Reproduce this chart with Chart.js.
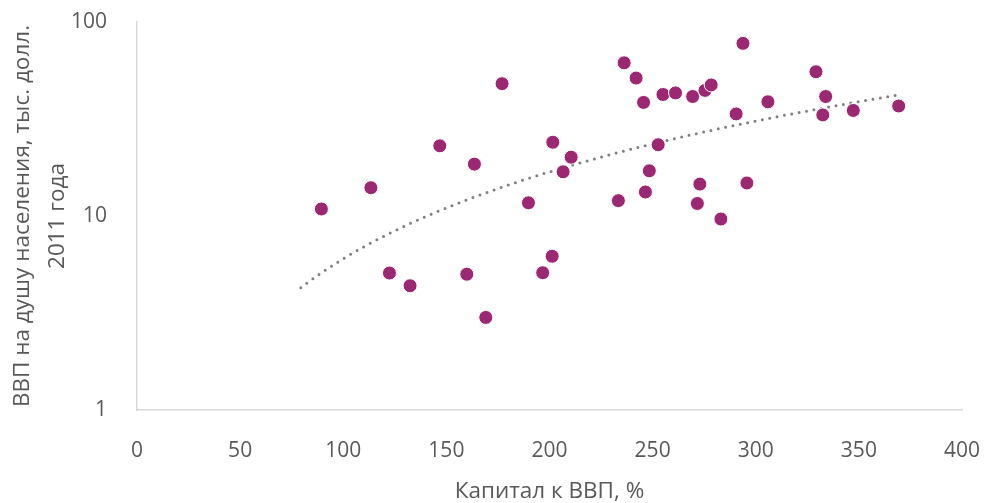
<!DOCTYPE html>
<html>
<head>
<meta charset="utf-8">
<script src="https://cdn.jsdelivr.net/npm/chart.js@4"></script>
<style>
  html, body { margin: 0; padding: 0; background: #fff; }
  #wrap { width: 985px; height: 503px; }
</style>
</head>
<body>
<div id="wrap"><canvas id="chart" width="985" height="503"></canvas></div>
<script>
// Капитал к ВВП, %
const capitalToGdp = [89.4, 113.4, 122.4, 132.4, 146.8, 159.9, 163.6, 169.1, 177.0, 189.8,
    196.7, 201.3, 201.6, 206.6, 210.5, 233.4, 236.2, 242.0, 245.6, 246.5,
    248.4, 252.7, 255.0, 261.1, 269.4, 271.7, 272.9, 275.4, 278.4, 283.1,
    290.5, 293.8, 295.7, 305.9, 329.2, 332.5, 333.9, 347.3, 369.3];
// ВВП на душу населения, тыс. долл. 2011 года
const gdpPerCapita = [10.87, 13.99, 5.08, 4.37, 23.0, 5.01, 18.5, 3.00, 48.1, 11.7,
    5.10, 6.20, 24.0, 16.9, 20.1, 12.0, 61.6, 51.4, 38.5, 13.3,
    17.1, 23.3, 42.3, 43.1, 41.3, 11.6, 14.6, 44.4, 47.4, 9.65,
    33.6, 77.6, 14.8, 38.8, 55.4, 33.2, 41.3, 35.0, 36.9];
const xTicks = [0, 50, 100, 150, 200, 250, 300, 350, 400];
const yTicks = [1, 10, 100];

// Power trendline (Excel style): ln y = ln a + b ln x, with 10 units backward forecast
function powerTrend(xs, ys, backward, steps) {
    const n = xs.length;
    let sx = 0, sy = 0, sxx = 0, sxy = 0;
    for (let i = 0; i < n; i++) {
        const lx = Math.log(xs[i]), ly = Math.log(ys[i]);
        sx += lx; sy += ly; sxx += lx * lx; sxy += lx * ly;
    }
    const b = (n * sxy - sx * sy) / (n * sxx - sx * sx);
    const a = Math.exp((sy - b * sx) / n);
    const x0 = Math.min(...xs) - backward, x1 = Math.max(...xs);
    const pts = [];
    for (let i = 0; i <= steps; i++) {
        const x = x0 + (x1 - x0) * i / steps;
        pts.push({ x: x, y: a * Math.pow(x, b) });
    }
    return pts;
}

const points = capitalToGdp.map((x, i) => ({ x: x, y: gdpPerCapita[i] }));
const trend = powerTrend(capitalToGdp, gdpPerCapita, 10, 120);

const textColor = '#595959';
const family = "'Open Sans', 'Noto Sans', sans-serif";
const tickFont = { family: family, size: 21 };

new Chart(document.getElementById('chart').getContext('2d'), {
    type: 'scatter',
    data: {
        datasets: [{
            label: 'Тренд',
            data: trend,
            showLine: true,
            borderColor: '#7f7f7f',
            borderWidth: 3,
            borderDash: [0, 7.5],
            borderCapStyle: 'round',
            pointRadius: 0,
            fill: false,
            order: 2
        }, {
            label: 'Страны',
            data: points,
            backgroundColor: '#9c2772',
            borderColor: '#ffffff',
            borderWidth: 1,
            pointRadius: 7,
            order: 1
        }]
    },
    options: {
        responsive: false,
        animation: false,
        layout: { padding: { top: 0, right: 0, left: 5, bottom: 0 } },
        plugins: {
            legend: { display: false },
            tooltip: { enabled: false }
        },
        scales: {
            x: {
                type: 'linear',
                min: 0,
                max: 400,
                afterBuildTicks: function(scale) {
                    scale.ticks = xTicks.map(v => ({ value: v }));
                },
                afterFit: function(scale) {
                    scale.height = 93;
                    scale.paddingLeft = 0;
                    scale.paddingRight = 23;
                },
                grid: { display: false },
                border: { display: true, color: '#d9d9d9', width: 1.5 },
                ticks: { color: textColor, font: tickFont, padding: 20, maxRotation: 0 },
                title: {
                    display: true,
                    text: 'Капитал к ВВП, %',
                    color: textColor,
                    font: { family: family, size: 22.5, lineHeight: 1.05 },
                    padding: { top: 10, bottom: 0 }
                }
            },
            y: {
                type: 'logarithmic',
                min: 1,
                max: 100,
                afterBuildTicks: function(scale) {
                    scale.ticks = yTicks.map(v => ({ value: v }));
                },
                afterFit: function(scale) {
                    scale.width = 132;
                    scale.paddingTop = 22;
                    scale.paddingBottom = 0;
                },
                grid: { display: false },
                border: { display: true, color: '#d9d9d9', width: 1.5 },
                ticks: {
                    color: textColor,
                    font: tickFont,
                    padding: 22,
                    callback: function(v) { return String(v); }
                },
                title: {
                    display: true,
                    text: ['ВВП на душу населения, тыс. долл.', '2011 года'],
                    color: textColor,
                    font: { family: family, size: 22.5, lineHeight: 1.55 },
                    padding: { top: 0, bottom: 4 }
                }
            }
        }
    }
});
</script>
</body>
</html>
